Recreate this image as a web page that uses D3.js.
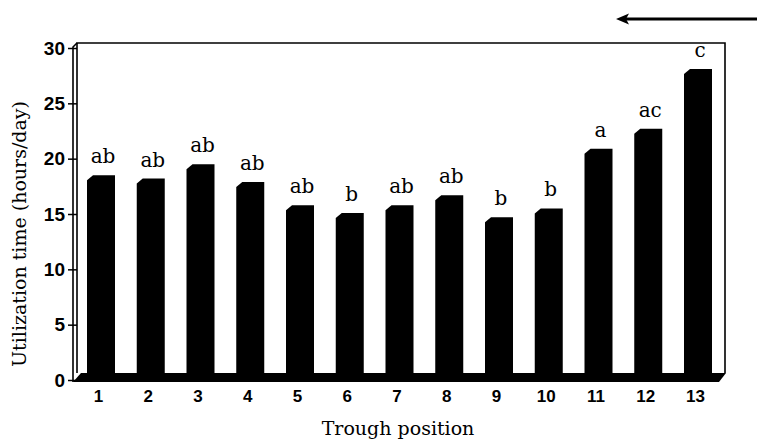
<!DOCTYPE html>
<html lang="en">
  <head>
    <meta charset="UTF-8" />
    <title>Utilization time by trough position</title>
    <script src="https://cdn.jsdelivr.net/npm/d3@7/dist/d3.min.js"></script>
    <style>
      body {
        margin: 0;
        background: #fff;
      }
      .tick-label {
        font: bold 17px "Liberation Sans", Arial, sans-serif;
        fill: #000;
      }
      .title {
        font: 19px "DejaVu Serif", serif;
        fill: #000;
      }
      .letter {
        font: 20px "DejaVu Serif", serif;
        fill: #000;
      }
    </style>
  </head>
  <body>
    <svg width="757" height="439"></svg>
    <script>
      const svg = d3.select("svg");

      // data
      const positions = ["1", "2", "3", "4", "5", "6", "7", "8", "9", "10", "11", "12", "13"];
      const hours = [18.5, 18.2, 19.5, 17.9, 15.8, 15.1, 15.8, 16.7, 14.7, 15.5, 20.9, 22.7, 28.1];
      const letters = ["ab", "ab", "ab", "ab", "ab", "b", "ab", "ab", "b", "b", "a", "ac", "c"];
      const yTicks = [0, 5, 10, 15, 20, 25, 30];

      const x = d3.scalePoint().domain(positions).range([101, 698]);
      const y = d3.scaleLinear().domain([0, 30]).range([380, 48]);

      const barW = 28;
      const floorBack = 373;
      const wallLeft = 77,
        wallRight = 725,
        wallTop = 43,
        axisX = 73;

      // back wall
      svg
        .append("path")
        .attr(
          "d",
          `M${wallLeft},${floorBack} L${wallLeft},${wallTop} L${wallRight},${wallTop} L${wallRight},${floorBack}`
        )
        .attr("fill", "none")
        .attr("stroke", "#000")
        .attr("stroke-width", 1.6);

      // front left axis edge
      svg
        .append("path")
        .attr("d", `M${axisX},382 L${axisX},47 L${wallLeft},${wallTop}`)
        .attr("fill", "none")
        .attr("stroke", "#000")
        .attr("stroke-width", 1.6);

      // bars
      svg
        .append("g")
        .selectAll("path")
        .data(hours)
        .join("path")
        .attr("d", (d, i) => {
          const x0 = x(positions[i]) - barW / 2,
            x1 = x0 + barW,
            top = y(d);
          return `M${x0},${top + 5} L${x0 + 6},${top} L${x1},${top} L${x1},${floorBack + 1} L${x0},${floorBack + 1} Z`;
        })
        .attr("fill", "#000");

      // floor slab
      svg
        .append("path")
        .attr("d", `M${axisX},382 L719,382 L${wallRight + 1},${floorBack} L81,${floorBack} Z`)
        .attr("fill", "#000");

      // y axis
      const yAxis = svg
        .append("g")
        .attr("transform", `translate(${axisX},0)`)
        .call(d3.axisLeft(y).tickValues(yTicks).tickSize(5).tickPadding(3));
      yAxis.select(".domain").remove();
      yAxis.selectAll("line").attr("stroke", "#000").attr("stroke-width", 1.5).attr("x1", 4);
      yAxis
        .selectAll("text")
        .attr("class", "tick-label")
        .attr("font-size", null)
        .attr("font-family", null)
        .style("font-size", "19px");

      // x axis labels
      const xAxis = svg
        .append("g")
        .attr("transform", "translate(-3,388)")
        .call(d3.axisBottom(x).tickSize(0).tickPadding(2));
      xAxis.select(".domain").remove();
      xAxis
        .selectAll("text")
        .attr("class", "tick-label")
        .attr("font-size", null)
        .attr("font-family", null);

      // significance letters
      svg
        .append("g")
        .selectAll("text")
        .data(letters)
        .join("text")
        .attr("class", "letter")
        .attr("x", (d, i) => x(positions[i]) + 2)
        .attr("y", (d, i) => y(hours[i]) - 12)
        .attr("text-anchor", "middle")
        .text((d) => d);

      // axis titles
      svg
        .append("text")
        .attr("class", "title")
        .attr("x", 398)
        .attr("y", 435)
        .attr("text-anchor", "middle")
        .text("Trough position");

      svg
        .append("text")
        .attr("class", "title")
        .attr("transform", "translate(26,234) rotate(-90)")
        .attr("text-anchor", "middle")
        .text("Utilization time (hours/day)");

      // direction arrow
      svg
        .append("line")
        .attr("x1", 757)
        .attr("x2", 624)
        .attr("y1", 19)
        .attr("y2", 19)
        .attr("stroke", "#000")
        .attr("stroke-width", 3);
      svg
        .append("path")
        .attr("d", "M616,19 L629,13.5 L626,19 L629,24.5 Z")
        .attr("fill", "#000");
    </script>
  </body>
</html>
